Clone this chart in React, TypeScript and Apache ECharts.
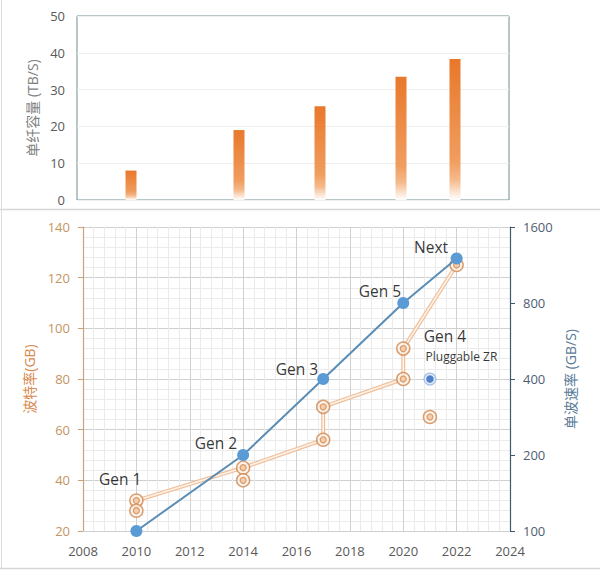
import React, { useEffect, useRef } from "react";
import * as echarts from "echarts";

// Top chart: fibre capacity (TB/s)
const capYears = [2010, 2014, 2017, 2020, 2022];
const capValues = [8, 19, 25.5, 33.5, 38.3];

// Bottom chart: baud rate (GB) pairs per generation
const baudPoints: [number, number][] = [
  [2010, 32], [2010, 28], [2014, 45], [2014, 40], [2017, 69], [2017, 56],
  [2020, 92], [2020, 80], [2021, 65], [2022, 125],
];
const baudPath: [number, number][] = [
  [2010, 32], [2014, 45], [2017, 56], [2017, 69], [2020, 80], [2020, 92], [2022, 125],
];

// Single-wave rate (GB/s), log2 scale
const rateYears = [2010, 2014, 2017, 2020, 2022];
const rateValues = [100, 200, 400, 800, 1200];
const zrPoint: [number, number] = [2021, 400];

const rightTicks = [100, 200, 400, 800, 1600];

// Generation labels (data coordinates on left axis)
const genLabels: { text: string; x: number; y: number; small?: boolean }[] = [
  { text: "Gen 1", x: 2009.39, y: 40.5 },
  { text: "Gen 2", x: 2012.98, y: 54.9 },
  { text: "Gen 3", x: 2016.02, y: 84 },
  { text: "Gen 5", x: 2019.13, y: 114.7 },
  { text: "Next", x: 2021.04, y: 132.1 },
  { text: "Gen 4", x: 2021.56, y: 96.8 },
  { text: "Pluggable ZR", x: 2022.18, y: 88.7, small: true },
];

const toLog = (v: number) => Math.log2(v / 100);

export default function App() {
  const ref = useRef<HTMLDivElement>(null);
  useEffect(() => {
    if (!ref.current) return;
    const chart = echarts.init(ref.current, null, { renderer: "svg" });
    const font = "'Open Sans', 'Noto Sans CJK SC', sans-serif";
    const barGradient = new echarts.graphic.LinearGradient(0, 0, 0, 1, [
      { offset: 0, color: "#E8782B" },
      { offset: 0.72, color: "#F09D5E" },
      { offset: 0.86, color: "#F5BA8C" },
      { offset: 1, color: "rgba(255,255,255,0.95)" },
    ]);
    const option: any = {
      animation: false,
      textStyle: { fontFamily: font },
      graphic: [
        { type: "line", shape: { x1: 0, y1: 209.5, x2: 600, y2: 209.5 }, style: { stroke: "#d6d6d6", lineWidth: 1.5 } },
        { type: "line", shape: { x1: 1.5, y1: 0, x2: 1.5, y2: 569 }, style: { stroke: "#dcdcdc", lineWidth: 1 } },
        { type: "line", shape: { x1: 0, y1: 568.5, x2: 600, y2: 568.5 }, style: { stroke: "#d6d6d6", lineWidth: 1.5 } },
      ],
      grid: [
        { left: 77, right: 91, top: 16, height: 184, show: true, borderColor: "#6f8f8f", borderWidth: 1, backgroundColor: "transparent" },
        { left: 83, right: 90, top: 227, height: 304 },
      ],
      xAxis: [
        {
          type: "value", gridIndex: 0, min: 2008, max: 2024, interval: 2,
          axisLabel: { show: false }, axisTick: { show: false }, axisLine: { show: false }, splitLine: { show: false },
        },
        {
          type: "value", gridIndex: 1, min: 2008, max: 2024, interval: 2,
          axisLabel: { color: "#595959", fontSize: 13, margin: 13, fontFamily: font, formatter: (v: number) => String(v) },
          axisTick: { show: false },
          axisLine: { show: true, lineStyle: { color: "#d0d0d0" } },
          splitLine: { show: true, lineStyle: { color: "#d0d0d0" } },
          minorTick: { show: false, splitNumber: 5 },
          minorSplitLine: { show: true, lineStyle: { color: "#ebebeb" } },
        },
      ],
      yAxis: [
        {
          type: "value", gridIndex: 0, min: 0, max: 50, interval: 10,
          name: "单纤容量 (TB/S)", nameLocation: "middle", nameRotate: 90, nameGap: 37,
          nameTextStyle: { color: "#7f7f7f", fontSize: 14, fontFamily: font },
          axisLabel: { color: "#595959", fontSize: 13, margin: 12, fontFamily: font },
          axisTick: { show: false }, axisLine: { show: false },
          splitLine: { show: true, lineStyle: { color: "#efefef" } },
        },
        {
          type: "value", gridIndex: 1, min: 20, max: 140, interval: 20, position: "left",
          name: "波特率(GB)", nameLocation: "middle", nameRotate: 90, nameGap: 46,
          nameTextStyle: { color: "#D98A4E", fontSize: 14, fontFamily: font },
          axisLabel: { color: "#C49463", fontSize: 13, margin: 13, fontFamily: font },
          axisTick: { show: true, length: 5, lineStyle: { color: "#C9A27A" } },
          axisLine: { show: true, lineStyle: { color: "#C9A27A", width: 1.2 } },
          splitLine: { show: true, lineStyle: { color: "#d0d0d0" } },
          minorTick: { show: false, splitNumber: 5 },
          minorSplitLine: { show: true, lineStyle: { color: "#ebebeb" } },
        },
        {
          type: "value", gridIndex: 1, min: 0, max: 4, interval: 1, position: "right",
          name: "单波速率 (GB/S)", nameLocation: "middle", nameRotate: 90, nameGap: 48,
          nameTextStyle: { color: "#5A7A96", fontSize: 14, fontFamily: font },
          axisLabel: {
            color: "#4F6074", fontSize: 13, margin: 13, fontFamily: font,
            formatter: (v: number) => String(rightTicks[Math.round(v)] ?? Math.round(100 * Math.pow(2, v))),
          },
          axisTick: { show: true, length: 5, lineStyle: { color: "#3E5B6B" } },
          axisLine: { show: true, lineStyle: { color: "#3E5B6B", width: 1.2 } },
          splitLine: { show: false },
        },
      ],
      series: [
        {
          type: "bar", xAxisIndex: 0, yAxisIndex: 0, barWidth: 11,
          data: capYears.map((y, i) => [y, capValues[i]]),
          itemStyle: { color: barGradient },
        },
        {
          type: "line", xAxisIndex: 1, yAxisIndex: 1, data: baudPath, symbol: "none",
          lineStyle: { color: "#F0BF9A", width: 4 }, z: 2,
        },
        {
          type: "line", xAxisIndex: 1, yAxisIndex: 1, data: baudPath, symbol: "none",
          lineStyle: { color: "#FDF3EA", width: 1.6 }, z: 3,
        },
        {
          type: "scatter", xAxisIndex: 1, yAxisIndex: 1, data: baudPoints, symbol: "circle", symbolSize: 13,
          itemStyle: { color: "#FDF2E8", borderColor: "#CF8750", borderWidth: 1.5 }, z: 4,
        },
        {
          type: "scatter", xAxisIndex: 1, yAxisIndex: 1, data: baudPoints, symbol: "circle", symbolSize: 6,
          itemStyle: { color: "#F4C49C", borderColor: "#CF8750", borderWidth: 1.2 }, z: 5,
        },
        {
          type: "line", xAxisIndex: 1, yAxisIndex: 2,
          data: rateYears.map((y, i) => [y, toLog(rateValues[i])]),
          symbol: "circle", symbolSize: 12,
          lineStyle: { color: "#5A8DB6", width: 2 },
          itemStyle: { color: "#5B9BD5" }, z: 6,
        },
        {
          type: "scatter", xAxisIndex: 1, yAxisIndex: 2, data: [[zrPoint[0], toLog(zrPoint[1])]],
          symbol: "circle", symbolSize: 13, itemStyle: { color: "#8DB4E2" }, z: 6,
        },
        {
          type: "scatter", xAxisIndex: 1, yAxisIndex: 2, data: [[zrPoint[0], toLog(zrPoint[1])]],
          symbol: "circle", symbolSize: 9, itemStyle: { color: "#3F70BE", borderColor: "#ffffff", borderWidth: 1.5 }, z: 7,
        },
        {
          type: "scatter", xAxisIndex: 1, yAxisIndex: 1, symbolSize: 0, z: 8,
          data: genLabels.map((g) => ({
            value: [g.x, g.y],
            label: {
              show: true, position: "inside", formatter: g.text, color: "#000000",
              fontSize: g.small ? 12 : 15.5, fontFamily: font,
            },
          })),
        },
      ],
    };
    chart.setOption(option);
    return () => chart.dispose();
  }, []);
  return <div ref={ref} style={{ position: "absolute", left: 0, top: 0, width: 600, height: 571 }} />;
}
